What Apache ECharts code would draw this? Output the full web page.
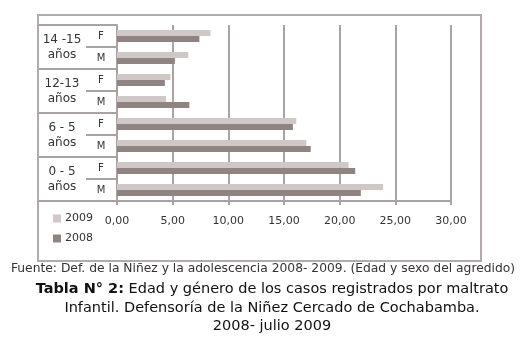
<!DOCTYPE html>
<html><head><meta charset="utf-8">
<script src="https://cdn.jsdelivr.net/npm/echarts@6/dist/echarts.min.js"></script>
<style>html,body{margin:0;padding:0;background:#fff}#c{width:530px;height:351px}</style>
</head><body><div id="c"></div>
<script>
const groups = ["14 -15\naños", "12-13\naños", "6 - 5\naños", "0 - 5\naños"];
const sexes = ["F", "M", "F", "M", "F", "M", "F", "M"];
const v2009 = [8.4, 6.4, 4.8, 4.4, 16.1, 17.0, 20.8, 23.9];
const v2008 = [7.4, 5.2, 4.3, 6.5, 15.8, 17.4, 21.4, 21.9];
const seriesNames = ["2009", "2008"];
const xTicks = {min: 0, max: 30, interval: 5};
const fuente = "Fuente: Def. de la Niñez y la adolescencia 2008- 2009. (Edad y sexo del agredido)";
const titleLines = ["{b|Tabla N° 2:} Edad y género de los casos registrados por maltrato", "Infantil. Defensoría de la Niñez Cercado de Cochabamba.", "2008- julio 2009"];

const FONT = "DejaVu Sans";
const GRID = "#aba3a3";
const chart = echarts.init(document.getElementById('c'), null, {renderer: 'canvas'});
chart.setOption({
  animation: false,
  backgroundColor: '#fff',
  textStyle: {fontFamily: FONT},
  grid: {left: 117, right: 79, top: 25, bottom: 150, containLabel: false},
  legend: {
    orient: 'vertical', left: 48, top: 208, itemWidth: 8, itemHeight: 8, itemGap: 9,
    icon: 'rect', data: seriesNames,
    textStyle: {fontFamily: FONT, fontSize: 11, color: '#333', padding: [0,0,0,-1]}
  },
  xAxis: {
    type: 'value', min: xTicks.min, max: xTicks.max, interval: xTicks.interval,
    axisLine: {show: true, lineStyle: {color: GRID, width: 2}},
    axisTick: {show: true, length: 4, lineStyle: {color: GRID, width: 2}},
    splitLine: {show: true, lineStyle: {color: GRID, width: 2}},
    axisLabel: {margin: 15, fontFamily: FONT, fontSize: 11, color: '#333',
      formatter: v => v.toFixed(2).replace('.', ',')}
  },
  yAxis: [{
    type: 'category', inverse: true, data: sexes, position: 'left',
    axisLine: {show: true, lineStyle: {color: GRID, width: 2}},
    axisTick: {show: true, length: 31, lineStyle: {color: GRID, width: 2}},
    axisLabel: {align: 'center', margin: 16, fontFamily: FONT, fontSize: 10, color: '#333'}
  }, {
    type: 'category', inverse: true, data: groups, position: 'left',
    axisLine: {show: false},
    axisTick: {show: true, length: 79, lineStyle: {color: GRID, width: 2}},
    axisLabel: {align: 'center', margin: 55, fontFamily: FONT, fontSize: 12, color: '#333',
      lineHeight: 15, padding: [0, 0, 6, 0]}
  }],
  series: [{
    name: seriesNames[0], type: 'bar', data: v2009, barWidth: 6, barGap: '0%',
    itemStyle: {color: '#cfc8c6'}
  }, {
    name: seriesNames[1], type: 'bar', data: v2008, barWidth: 6, barGap: '0%',
    itemStyle: {color: '#8f8482'}
  }],
  graphic: [{
    type: 'rect', shape: {x: 38, y: 15, width: 443, height: 246},
    style: {fill: 'none', stroke: '#b3abab', lineWidth: 2}, silent: true
  }, {
    type: 'text', x: 263, y: 263,
    style: {text: fuente, align: 'center', verticalAlign: 'top', font: '12.3px "DejaVu Sans"', fill: '#333'}
  }, {
    type: 'text', x: 272, y: 280,
    style: {text: titleLines.join('\n'), align: 'center', verticalAlign: 'top',
      fontFamily: FONT, fontSize: 14.5, lineHeight: 18.5, fill: '#111',
      rich: {b: {fontFamily: FONT, fontSize: 14.5, fontWeight: 'bold', fill: '#111'}}}
  }]
});
</script></body></html>
